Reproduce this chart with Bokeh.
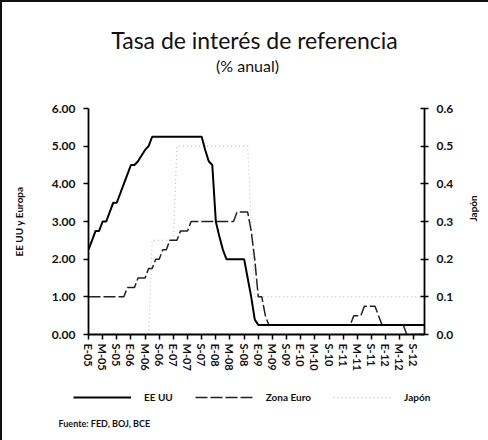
import math
from bokeh.plotting import figure
from bokeh.layouts import column
from bokeh.models import (Range1d, LinearAxis, FixedTicker, Label, Legend, LegendItem,
                          ColumnDataSource, NumeralTickFormatter)
from bokeh.embed import file_html
from bokeh.resources import INLINE

# ---------------- data (monthly, Jan 2005 - Dec 2012) ----------------
tick_labels = ["E-05", "M-05", "S-05", "E-06", "M-06", "S-06", "E-07", "M-07",
               "S-07", "E-08", "M-08", "S-08", "E-09", "M-09", "S-09", "E-10",
               "M-10", "S-10", "E-11", "M-11", "S-11", "E-12", "M-12", "S-12"]

us_2005 = [2.25, 2.50, 2.75, 2.75, 3.00, 3.00, 3.25, 3.50, 3.50, 3.75, 4.00, 4.25]
us_2006 = [4.50, 4.50, 4.60, 4.75, 4.90, 5.00, 5.25, 5.25, 5.25, 5.25, 5.25, 5.25]
us_2007 = [5.25, 5.25, 5.25, 5.25, 5.25, 5.25, 5.25, 5.25, 5.25, 4.90, 4.60, 4.50]
us_2008 = [3.00, 2.60, 2.25, 2.00, 2.00, 2.00, 2.00, 2.00, 2.00, 1.50, 1.00, 0.40]
us_2009 = [0.25, 0.25, 0.25, 0.25, 0.25, 0.25, 0.25, 0.25, 0.25, 0.25, 0.25, 0.25]
us_2010 = [0.25, 0.25, 0.25, 0.25, 0.25, 0.25, 0.25, 0.25, 0.25, 0.25, 0.25, 0.25]
us_2011 = [0.25, 0.25, 0.25, 0.25, 0.25, 0.25, 0.25, 0.25, 0.25, 0.25, 0.25, 0.25]
us_2012 = [0.25, 0.25, 0.25, 0.25, 0.25, 0.25, 0.25, 0.25, 0.25, 0.25, 0.25, 0.25]

eu_2005 = [1.00, 1.00, 1.00, 1.00, 1.00, 1.00, 1.00, 1.00, 1.00, 1.00, 1.00, 1.25]
eu_2006 = [1.25, 1.25, 1.50, 1.50, 1.50, 1.75, 1.75, 2.00, 2.00, 2.25, 2.25, 2.50]
eu_2007 = [2.50, 2.50, 2.75, 2.75, 2.75, 3.00, 3.00, 3.00, 3.00, 3.00, 3.00, 3.00]
eu_2008 = [3.00, 3.00, 3.00, 3.00, 3.00, 3.00, 3.25, 3.25, 3.25, 3.25, 2.75, 2.00]
eu_2009 = [1.00, 1.00, 0.50, 0.25, 0.25, 0.25, 0.25, 0.25, 0.25, 0.25, 0.25, 0.25]
eu_2010 = [0.25, 0.25, 0.25, 0.25, 0.25, 0.25, 0.25, 0.25, 0.25, 0.25, 0.25, 0.25]
eu_2011 = [0.25, 0.25, 0.25, 0.50, 0.50, 0.50, 0.75, 0.75, 0.75, 0.75, 0.50, 0.25]
eu_2012 = [0.25, 0.25, 0.25, 0.25, 0.25, 0.25, 0.00, 0.00, 0.00, 0.00, 0.00, 0.00]

jp_2005 = [0.00, 0.00, 0.00, 0.00, 0.00, 0.00, 0.00, 0.00, 0.00, 0.00, 0.00, 0.00]
jp_2006 = [0.00, 0.00, 0.00, 0.00, 0.00, 0.00, 0.25, 0.25, 0.25, 0.25, 0.25, 0.25]
jp_2007 = [0.25, 0.50, 0.50, 0.50, 0.50, 0.50, 0.50, 0.50, 0.50, 0.50, 0.50, 0.50]
jp_2008 = [0.50, 0.50, 0.50, 0.50, 0.50, 0.50, 0.50, 0.50, 0.50, 0.50, 0.30, 0.10]
jp_2009 = [0.10, 0.10, 0.10, 0.10, 0.10, 0.10, 0.10, 0.10, 0.10, 0.10, 0.10, 0.10]
jp_2010 = [0.10, 0.10, 0.10, 0.10, 0.10, 0.10, 0.10, 0.10, 0.10, 0.10, 0.10, 0.10]
jp_2011 = [0.10, 0.10, 0.10, 0.10, 0.10, 0.10, 0.10, 0.10, 0.10, 0.10, 0.10, 0.10]
jp_2012 = [0.10, 0.10, 0.10, 0.10, 0.10, 0.10, 0.10, 0.10, 0.10, 0.10, 0.10, 0.10]

us = us_2005 + us_2006 + us_2007 + us_2008 + us_2009 + us_2010 + us_2011 + us_2012
eu = eu_2005 + eu_2006 + eu_2007 + eu_2008 + eu_2009 + eu_2010 + eu_2011 + eu_2012
jp = jp_2005 + jp_2006 + jp_2007 + jp_2008 + jp_2009 + jp_2010 + jp_2011 + jp_2012
months = list(range(len(us)))
tick_pos = months[::4]

src = ColumnDataSource(dict(m=months, us=us, eu=eu, jp=jp))

FONT = "Lato"
W = 486
TOP_H, MAIN_H, BOT_H = 100, 276, 62

US_STYLE = dict(line_color="#000000", line_width=2)
EU_STYLE = dict(line_color="#222222", line_width=1.5, line_dash="12 3")
JP_STYLE = dict(line_color="#bdbdbd", line_width=1.1, line_dash="1 3")


def no_align(f):
    try:
        f.frame_align = False
    except Exception:
        pass


def blank_fig(h):
    f = figure(width=W, height=h, x_range=Range1d(0, W), y_range=Range1d(0, h),
               min_border=0, min_border_left=0, min_border_right=0,
               min_border_top=0, min_border_bottom=0,
               output_backend="svg", toolbar_location=None,
               x_axis_location=None, y_axis_location=None, title=None)
    f.grid.visible = False
    f.outline_line_color = None
    no_align(f)
    return f


def add_text(f, x, y, text, size, style="normal", align="center"):
    f.add_layout(Label(x=x, y=y, text=text, text_font=FONT, text_font_size=size,
                       text_font_style=style, text_align=align,
                       text_baseline="middle", text_color="#111"))


# ---------------- top: titles ----------------
ptop = blank_fig(TOP_H)
add_text(ptop, 252, 63, "Tasa de interés de referencia", "23px")
add_text(ptop, 245, 37, "(% anual)", "16px")

# ---------------- main chart ----------------
p = figure(width=W, height=MAIN_H, output_backend="svg", toolbar_location=None,
           title=None, x_range=Range1d(0, 95), y_range=Range1d(0, 6),
           min_border_left=86, min_border_right=W - 86 - 340, min_border_top=6,
           min_border_bottom=MAIN_H - 6 - 226)
p.grid.visible = False
p.outline_line_color = None
no_align(p)
p.extra_y_ranges = {"jp": Range1d(0, 0.6)}

r_jp = p.line("m", "jp", source=src, y_range_name="jp", **JP_STYLE)
r_eu = p.line("m", "eu", source=src, **EU_STYLE)
r_us = p.line("m", "us", source=src, **US_STYLE)


def style_axis(ax, size="12px"):
    ax.axis_line_color = "black"
    ax.axis_line_width = 1.8
    ax.major_tick_line_color = "black"
    ax.major_tick_line_width = 1.5
    ax.minor_tick_line_color = None
    ax.major_label_text_font = FONT
    ax.major_label_text_font_style = "bold"
    ax.major_label_text_font_size = size
    ax.major_label_text_color = "#111"
    ax.axis_label_text_font = FONT
    ax.axis_label_text_font_style = "bold"
    ax.axis_label_text_font_size = "10px"
    ax.axis_label_text_color = "#111"


yl = p.yaxis[0]
yl.ticker = FixedTicker(ticks=[0, 1, 2, 3, 4, 5, 6])
yl.formatter = NumeralTickFormatter(format="0.00")
style_axis(yl)
yl.major_tick_out = 5
yl.major_tick_in = 0
yl.major_label_standoff = 8
yl.axis_label = "EE UU y Europa"
yl.axis_label_standoff = 24

xa = p.xaxis[0]
xa.ticker = FixedTicker(ticks=tick_pos)
xa.major_label_overrides = {t: lab for t, lab in zip(tick_pos, tick_labels)}
xa.major_label_orientation = "vertical"
style_axis(xa, "11px")
xa.major_tick_out = 5
xa.major_tick_in = 0
xa.major_label_standoff = 4

yr = LinearAxis(y_range_name="jp", ticker=FixedTicker(ticks=[0, 0.1, 0.2, 0.3, 0.4, 0.5, 0.6]),
                formatter=NumeralTickFormatter(format="0.0"))
style_axis(yr)
yr.major_tick_out = 4
yr.major_tick_in = 4
yr.major_label_standoff = 8
yr.axis_label = "Japón"
yr.axis_label_standoff = 17
try:
    yr.axis_label_orientation = math.pi / 2
except Exception:
    pass
p.add_layout(yr, "right")

# ---------------- bottom: legend + source ----------------
pbot = blank_fig(BOT_H)
# legend keys only (placed off the visible range)
l_us = pbot.line(x=[-50, -40], y=[-50, -50], **US_STYLE)
l_eu = pbot.line(x=[-50, -40], y=[-50, -50], **EU_STYLE)
l_jp = pbot.line(x=[-50, -40], y=[-50, -50], **JP_STYLE)
legend = Legend(items=[LegendItem(label="EE UU", renderers=[l_us]),
                       LegendItem(label="Zona Euro", renderers=[l_eu]),
                       LegendItem(label="Japón", renderers=[l_jp])],
                location=(71, 33), orientation="horizontal",
                glyph_width=58, glyph_height=20, label_height=20,
                label_standoff=13, spacing=22, padding=0, margin=0,
                border_line_color=None, background_fill_alpha=0,
                label_text_font=FONT, label_text_font_size="10px",
                label_text_font_style="bold", label_text_color="#111")
pbot.add_layout(legend)
add_text(pbot, 56, 17, "Fuente: FED, BOJ, BCE", "9px", "bold", align="left")

page = column(ptop, p, pbot, spacing=0,
              styles={"border-left": "2px solid #111", "border-top": "2px solid #111"})

open("out.html", "w").write(file_html(page, INLINE))
